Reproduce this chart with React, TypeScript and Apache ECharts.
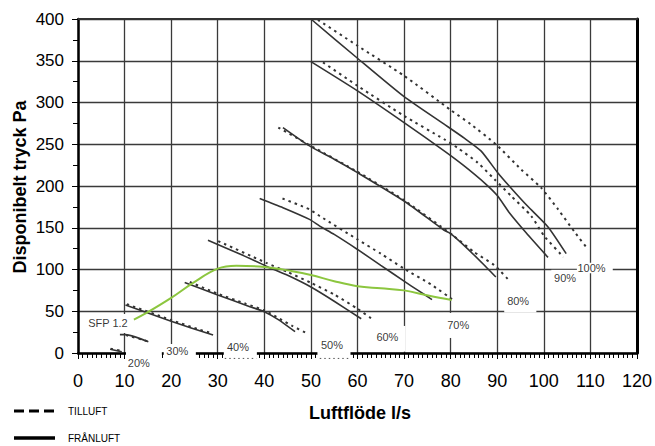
import React, { useEffect, useRef } from "react";
import * as echarts from "echarts";

// Axis ranges
const X_MIN = 0, X_MAX = 120, X_STEP = 10;
const Y_MIN = 0, Y_MAX = 400, Y_STEP = 50;

// FRÅNLUFT (solid) curves [Luftflöde l/s, Pa]
const fran20 = [[6.9, 4.4], [9.4, 1.6]];
const fran30 = [[9, 22], [10.2, 22], [15.1, 13.5]];
const fran40 = [[10.2, 57.5], [20, 38], [29, 21.5]];
const fran50 = [[22.9, 84.5], [30, 69.5], [36.9, 55.5], [40, 49.5], [43, 40], [46.6, 25.5]];
const fran60 = [[27.9, 135], [35, 118], [40.4, 104], [45, 93], [50, 79], [55, 62], [60.8, 41]];
const fran70 = [[39, 185], [44, 174], [49.7, 160], [51.9, 152], [55, 142], [60, 124], [65, 105], [70, 86], [73, 75], [76, 64]];
const fran80 = [[44, 270], [49.7, 248], [55, 232], [60, 216], [70, 182], [78.6, 147], [80, 143], [84, 123], [87.6, 103], [89.7, 91]];
const fran90 = [[50, 349], [60, 314], [70, 276], [78.6, 242], [82.9, 224], [87.6, 202], [90.1, 188], [92.6, 168], [96.2, 144], [100.9, 114.5]];
const fran100 = [[50, 400], [60, 353], [70, 307], [78.6, 274], [83, 257], [86.5, 242], [90.1, 216], [92.9, 198], [96.5, 176], [100.9, 151], [104.8, 119]];

// TILLUFT (dotted) curves
const till20 = [[7, 5.2], [9.5, 2.4]];
const till30 = [[10.3, 21.5], [15, 14]];
const till40 = [[10.5, 58.5], [20, 39.5], [25.8, 28.5], [28.5, 24]];
const till50 = [[24, 85], [30, 71], [36, 59], [40, 51], [43.3, 41], [46, 32.5], [49, 24]];
const till60 = [[30.1, 134], [40.4, 108], [45, 97], [50, 84], [55, 70], [60, 53], [63.3, 40]];
const till70 = [[43.9, 185], [49.7, 172], [51.9, 164], [60, 136], [65, 119], [70, 101], [75.8, 82], [80.4, 64]];
const till80 = [[43, 270], [49.7, 249], [60, 217], [70, 183], [80.7, 140], [85, 121], [89.4, 105], [92.7, 86]];
const till90 = [[52.6, 348], [60, 320], [70, 284], [78.6, 256], [81.4, 246], [85.8, 228], [89.4, 208], [93, 188], [97.3, 164], [100.1, 140], [104.2, 115]];
const till100 = [[51.5, 399], [60, 368], [70, 332], [80, 291], [84.3, 274], [89.7, 250], [95.1, 220], [99.4, 198], [103, 172.5], [106.6, 145], [109.5, 124]];

// SFP 1.2 curve (green)
const sfp12 = [[12, 40], [14.7, 48], [20, 66], [24.7, 84], [30, 101], [34, 104.5], [40, 103], [46, 98], [50, 93.5], [55, 86], [60, 80], [65, 77.5], [70, 75], [75.4, 68.5], [80.2, 63.5]];

// Annotation labels
const labelNames = ["20%", "30%", "40%", "50%", "60%", "70%", "80%", "90%", "100%", "SFP 1.2"];
const labelX = [13.07, 21.32, 34.35, 54.53, 66.42, 81.63, 94.49, 104.56, 110.24, 6.43];
const labelY = [-11.4, 2.0, 7.6, 9.6, 19.6, 33.6, 62.4, 90, 102, 36];

// White boxes behind labels [x1, y1, x2, y2] in data units
const maskBoxes = [
  [10.3, 2.4, 18.0, -22],
  [18.4, 10.8, 25.3, -8.4],
  [31.3, 15.6, 38.4, -8.4],
  [51.4, 16.8, 58.5, -8.4],
  [63.6, 32.4, 70.3, 1.6],
  [78.4, 48, 84.9, 18],
  [91.5, 73.2, 98.4, 48.5],
  [101.6, 99.6, 107.4, 80.4],
  [107.1, 108, 114.8, 95.4],
  [1.7, 46.8, 11.4, 24],
];

// Dotted axis pieces under 40% / 50%
const axisGap40 = [[31.5, -6.5], [38.3, -6.5]];
const axisGap50 = [[51.9, -6.5], [58.3, -6.5]];

const FONT = "'Liberation Sans', Arial, Helvetica, sans-serif";

export default function App() {
  const ref = useRef<HTMLDivElement>(null);

  useEffect(() => {
    document.body.style.margin = "0";
    if (!ref.current) return;
    const chart = echarts.init(ref.current, undefined, { renderer: "svg" });

    const franList = [fran20, fran30, fran40, fran50, fran60, fran70, fran80, fran90, fran100];
    const tillList = [till20, till30, till40, till50, till60, till70, till80, till90, till100];

    const solidSeries = franList.map((d) => ({
      name: "FRÅNLUFT",
      type: "line",
      data: d,
      symbol: "none",
      smooth: 0.2,
      clip: false,
      silent: true,
      z: 4,
      lineStyle: { color: "#333", width: 1.6 },
    }));
    const dottedSeries = tillList.map((d) => ({
      name: "TILLUFT",
      type: "line",
      data: d,
      symbol: "none",
      smooth: 0.2,
      clip: false,
      silent: true,
      z: 4,
      lineStyle: { color: "#333", width: 2, type: [2.5, 4] },
    }));

    const option: any = {
      animation: false,
      textStyle: { fontFamily: FONT },
      grid: { left: 78, top: 19, right: 17, bottom: 93, containLabel: false },
      xAxis: [
        {
          type: "value",
          position: "bottom",
          min: X_MIN,
          max: X_MAX,
          interval: X_STEP,
          axisLine: { show: true, onZero: false, lineStyle: { color: "#000", width: 2.5 } },
          axisTick: { show: true, inside: false, length: 6, lineStyle: { color: "#000", width: 1 } },
          minorTick: { show: true, splitNumber: 10, length: 5, lineStyle: { color: "#000", width: 1 } },
          axisLabel: { color: "#000", fontSize: 18, margin: 19, fontFamily: FONT },
          splitLine: { show: true, lineStyle: { color: "#3a3a3a", width: 1.3 } },
        },
        {
          type: "value",
          position: "top",
          min: X_MIN,
          max: X_MAX,
          interval: X_STEP,
          axisLine: { show: true, onZero: false, lineStyle: { color: "#333", width: 2 } },
          axisTick: { show: false },
          axisLabel: { show: false },
          splitLine: { show: false },
        },
      ],
      yAxis: [
        {
          type: "value",
          position: "left",
          min: Y_MIN,
          max: Y_MAX,
          interval: Y_STEP,
          axisLine: { show: true, onZero: false, lineStyle: { color: "#000", width: 2.5 } },
          axisTick: { show: true, inside: false, length: 6, lineStyle: { color: "#000", width: 1 } },
          minorTick: { show: true, splitNumber: 2, length: 5, lineStyle: { color: "#000", width: 1 } },
          axisLabel: { color: "#000", fontSize: 17, margin: 14, fontFamily: FONT },
          splitLine: { show: true, lineStyle: { color: "#3a3a3a", width: 1.3 } },
        },
        {
          type: "value",
          position: "right",
          min: Y_MIN,
          max: Y_MAX,
          interval: Y_STEP,
          axisLine: { show: true, onZero: false, lineStyle: { color: "#000", width: 3 } },
          axisTick: { show: false },
          axisLabel: { show: false },
          splitLine: { show: false },
        },
      ],
      series: [
        {
          type: "custom",
          name: "masks",
          clip: false,
          silent: true,
          z: 3,
          encode: { x: [0, 2], y: [1, 3] },
          data: maskBoxes,
          renderItem: (params: any, api: any) => {
            const p1 = api.coord([api.value(0), api.value(1)]);
            const p2 = api.coord([api.value(2), api.value(3)]);
            return {
              type: "rect",
              shape: { x: p1[0], y: p1[1], width: p2[0] - p1[0], height: p2[1] - p1[1] },
              style: { fill: "#ffffff" },
            };
          },
        },
        {
          type: "line",
          data: axisGap40,
          symbol: "none",
          clip: false,
          silent: true,
          z: 4,
          lineStyle: { color: "#555", width: 1, type: [1.5, 3] },
        },
        {
          type: "line",
          data: axisGap50,
          symbol: "none",
          clip: false,
          silent: true,
          z: 4,
          lineStyle: { color: "#555", width: 1, type: [1.5, 3] },
        },
        ...dottedSeries,
        ...solidSeries,
        {
          name: "SFP 1.2",
          type: "line",
          data: sfp12,
          symbol: "none",
          smooth: 0.4,
          clip: false,
          silent: true,
          z: 5,
          lineStyle: { color: "#8cc63f", width: 2 },
        },
        {
          type: "scatter",
          symbolSize: 0,
          clip: false,
          silent: true,
          z: 6,
          itemStyle: { color: "#000" },
          data: labelNames.map((n, i) => ({ name: n, value: [labelX[i], labelY[i]] })),
          label: {
            show: true,
            position: [0, 0],
            align: "center",
            verticalAlign: "middle",
            formatter: (p: any) => p.name,
            color: "#000",
            textBorderWidth: 0,
            fontSize: 11,
            fontFamily: FONT,
          },
        },
      ],
      graphic: [
        {
          type: "text",
          x: 19.5,
          y: 187,
          rotation: Math.PI / 2,
          style: {
            text: "Disponibelt tryck Pa",
            fontSize: 18,
            fontWeight: "bold",
            fontFamily: FONT,
            fill: "#000",
            align: "center",
            verticalAlign: "middle",
          },
        },
        {
          type: "text",
          x: 360,
          y: 413,
          style: {
            text: "Luftflöde l/s",
            fontSize: 18,
            fontWeight: "bold",
            fontFamily: FONT,
            fill: "#000",
            align: "center",
            verticalAlign: "middle",
          },
        },
        {
          type: "line",
          shape: { x1: 14, y1: 411, x2: 54, y2: 411 },
          style: { stroke: "#000", lineWidth: 3, lineDash: [10, 5] },
        },
        {
          type: "text",
          x: 68,
          y: 411,
          style: { text: "TILLUFT", fontSize: 10, fontFamily: FONT, fill: "#000", verticalAlign: "middle" },
        },
        {
          type: "line",
          shape: { x1: 14, y1: 438, x2: 55, y2: 438 },
          style: { stroke: "#000", lineWidth: 3.5 },
        },
        {
          type: "text",
          x: 68,
          y: 438,
          style: { text: "FRÅNLUFT", fontSize: 10, fontFamily: FONT, fill: "#000", verticalAlign: "middle" },
        },
      ],
    };

    chart.setOption(option);
    return () => chart.dispose();
  }, []);

  return (
    <div
      ref={ref}
      style={{ position: "absolute", left: 0, top: 0, width: 655, height: 446, background: "#fff" }}
    />
  );
}
